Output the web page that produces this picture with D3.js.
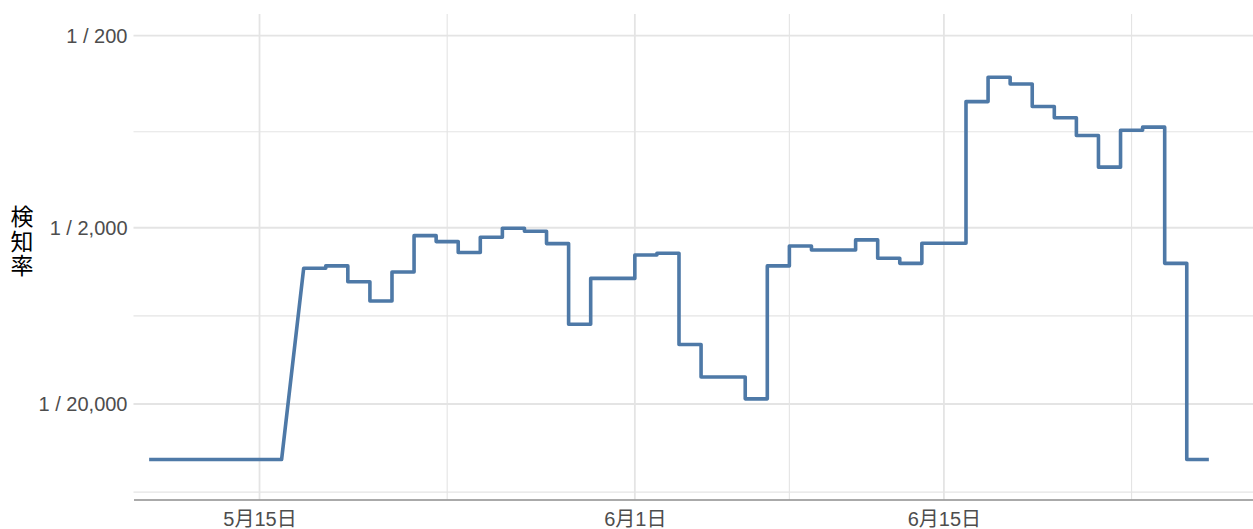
<!DOCTYPE html>
<html>
<head>
<meta charset="utf-8">
<script src="https://cdn.jsdelivr.net/npm/d3@7"></script>
<style>
  html, body { margin: 0; padding: 0; background: #fff; }
  svg { display: block; }
</style>
</head>
<body>
<svg id="chart" width="1253" height="529"></svg>
<script>
// Detection rate (detections per test), daily
const baselineSpan = ["2021-05-10", "2021-05-16"];
const baselineRate = 1.94e-5;

const dailyDates = [
  "2021-05-17", "2021-05-18", "2021-05-19", "2021-05-20", "2021-05-21",
  "2021-05-22", "2021-05-23", "2021-05-24", "2021-05-25", "2021-05-26",
  "2021-05-27", "2021-05-28", "2021-05-29", "2021-05-30", "2021-05-31",
  "2021-06-01", "2021-06-02", "2021-06-03", "2021-06-04", "2021-06-05",
  "2021-06-06", "2021-06-07", "2021-06-08", "2021-06-09", "2021-06-10",
  "2021-06-11", "2021-06-12", "2021-06-13", "2021-06-14", "2021-06-15",
  "2021-06-16", "2021-06-17", "2021-06-18", "2021-06-19", "2021-06-20",
  "2021-06-21", "2021-06-22", "2021-06-23", "2021-06-24", "2021-06-25",
  "2021-06-26"
];
const dailyRates = [
  3.04e-4, 3.13e-4, 2.57e-4, 2.02e-4, 2.90e-4,
  4.54e-4, 4.22e-4, 3.69e-4, 4.45e-4, 4.97e-4,
  4.79e-4, 4.12e-4, 1.50e-4, 2.68e-4, 2.68e-4,
  3.58e-4, 3.66e-4, 1.15e-4, 7.4e-5, 7.4e-5,
  5.4e-5, 3.13e-4, 4.00e-4, 3.81e-4, 3.81e-4,
  4.31e-4, 3.44e-4, 3.23e-4, 4.14e-4, 4.14e-4,
  2.28e-3, 3.05e-3, 2.81e-3, 2.15e-3, 1.88e-3,
  1.52e-3, 1.04e-3, 1.62e-3, 1.68e-3, 3.23e-4,
  1.94e-5
];

// Axis breaks
const xTickDates = ["2021-05-15", "2021-06-01", "2021-06-15"];
const yTickDenominators = [200, 2000, 20000];
const yTitle = "検知率";

const parse = d3.utcParse("%Y-%m-%d");

const svg = d3.select("#chart");
const panel = { left: 133.5, right: 1253, top: 14, bottom: 499.5 };

const may15 = parse("2021-05-15");
const x = d3.scaleUtc()
  .domain([d3.utcHour.offset(may15, -5.7 * 24), d3.utcDay.offset(may15, 45)])
  .range([panel.left, panel.right]);

const y = d3.scaleSymlog()
  .constant(1.34e-5)
  .domain([7.02e-6, 6.47e-3])
  .range([panel.bottom, panel.top]);

const gridColor = "#e4e4e4";

// Major and minor break positions (minor breaks sit halfway between majors)
const xMajor = xTickDates.map(parse);
const xm = xMajor.map(d => x(d));
const xMinorPx = [
  (xm[0] + xm[1]) / 2,
  (xm[1] + xm[2]) / 2,
  xm[2] + (xm[1] - xm[0]) / 2
];
const yMajor = yTickDenominators.map(n => 1 / n);
const ym = yMajor.map(v => y(v));
const yMinorPx = [
  (ym[0] + ym[1]) / 2,
  (ym[1] + ym[2]) / 2,
  ym[2] + (ym[2] - ym[1]) / 2
];

const grid = svg.append("g");
grid.selectAll(".hminor").data(yMinorPx).join("line")
  .attr("x1", panel.left).attr("x2", panel.right)
  .attr("y1", d => d).attr("y2", d => d)
  .attr("stroke", gridColor).attr("stroke-width", 1.1);
grid.selectAll(".vminor").data(xMinorPx).join("line")
  .attr("x1", d => d).attr("x2", d => d)
  .attr("y1", panel.top).attr("y2", panel.bottom)
  .attr("stroke", gridColor).attr("stroke-width", 1.1);
grid.selectAll(".hmajor").data(ym).join("line")
  .attr("x1", panel.left).attr("x2", panel.right)
  .attr("y1", d => d).attr("y2", d => d)
  .attr("stroke", gridColor).attr("stroke-width", 1.8);
grid.selectAll(".vmajor").data(xm).join("line")
  .attr("x1", d => d).attr("x2", d => d)
  .attr("y1", panel.top).attr("y2", panel.bottom)
  .attr("stroke", gridColor).attr("stroke-width", 1.8);

const tickFont = "'Liberation Sans', Arial, 'Noto Sans CJK JP', sans-serif";

// Y axis labels
const yAxis = d3.axisLeft(y)
  .tickValues(yMajor)
  .tickFormat((d, i) => "1 / " + d3.format(",")(yTickDenominators[i]))
  .tickSize(0)
  .tickPadding(6);
const gy = svg.append("g").attr("transform", `translate(${panel.left},0)`).call(yAxis);
gy.select(".domain").remove();
gy.selectAll("text")
  .attr("fill", "#4d4d4d")
  .style("font-family", tickFont)
  .style("font-size", "20px");

// X axis with bottom line
const xAxis = d3.axisBottom(x)
  .tickValues(xMajor)
  .tickFormat(d => `${d.getUTCMonth() + 1}月${d.getUTCDate()}日`)
  .tickSize(0)
  .tickSizeOuter(0)
  .tickPadding(12);
const gx = svg.append("g").attr("transform", `translate(0,${panel.bottom})`).call(xAxis);
gx.select(".domain").attr("stroke", "#8e8e8e").attr("stroke-width", 1.6);
gx.selectAll("text")
  .attr("fill", "#4d4d4d")
  .style("font-family", tickFont)
  .style("font-size", "20px");

// Y title, set vertically
svg.append("text")
  .attr("x", 22)
  .attr("y", 205)
  .attr("fill", "#000")
  .style("writing-mode", "vertical-rl")
  .style("text-orientation", "upright")
  .style("letter-spacing", "1.5px")
  .style("font-family", "'Noto Sans CJK JP', sans-serif")
  .style("font-size", "23px")
  .text(yTitle);

// Step series: each period is a flat run; consecutive days join with verticals
const segments = [{ start: parse(baselineSpan[0]), end: parse(baselineSpan[1]), rate: baselineRate }]
  .concat(dailyDates.map((d, i) => {
    const s = parse(d);
    return { start: s, end: d3.utcDay.offset(s, 1), rate: dailyRates[i] };
  }));
const pts = segments.flatMap(s => [[s.start, s.rate], [s.end, s.rate]]);

const line = d3.line().x(d => x(d[0])).y(d => y(d[1]));
svg.append("path")
  .datum(pts)
  .attr("d", line)
  .attr("fill", "none")
  .attr("stroke", "#4e79a7")
  .attr("stroke-width", 3.6)
  .attr("stroke-linejoin", "round")
  .attr("stroke-linecap", "butt");
</script>
</body>
</html>
